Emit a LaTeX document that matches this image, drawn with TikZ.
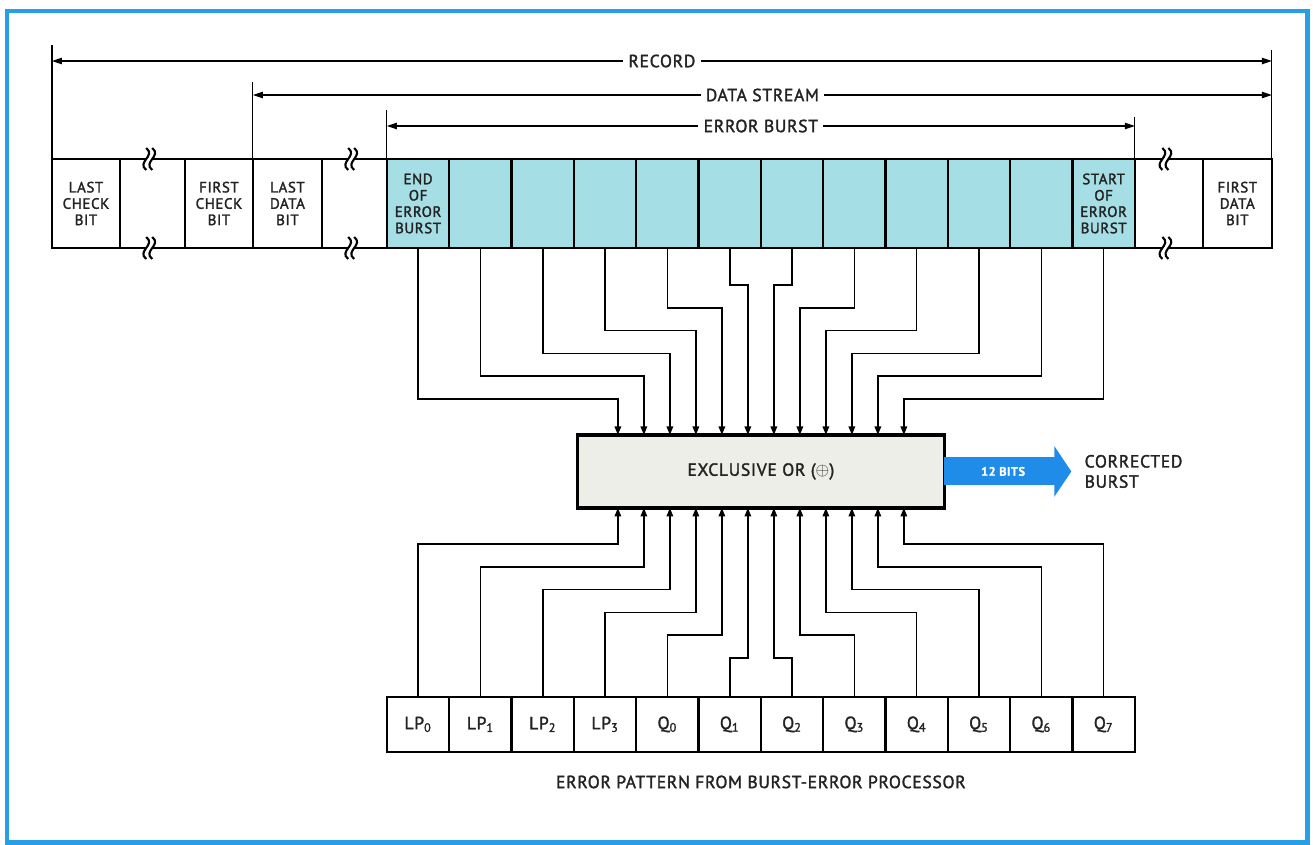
\documentclass[tikz,border=0pt]{standalone}
\usepackage{fontspec}
\setmainfont{PT Sans}[LetterSpace=4, FakeBold=1.8]
\usepackage{tikz}
\usetikzlibrary{positioning,arrows.meta,calc}

\definecolor{burstcyan}{RGB}{166,222,230}
\definecolor{frameblue}{RGB}{40,158,230}
\definecolor{busblue}{RGB}{30,140,232}
\definecolor{xorgray}{RGB}{238,238,233}
\definecolor{inkgray}{RGB}{35,35,35}

\tikzset{
	wavebreak/.pic={
		\fill[white] (-3,-5) rectangle (3,5);
		\draw[line width=1.2pt] (-3,-11) .. controls (7,-3) and (-13,3) .. (-3,11);
		\draw[line width=1.2pt] (3,-11) .. controls (13,-3) and (-7,3) .. (3,11);
	}
}

\begin{document}
\begin{tikzpicture}[
		x=0.02cm, y=-0.02cm,
		every node/.style={text=inkgray},
		bitbox/.style={
			draw,
			line width=1.3pt,
			outer sep=0pt,
			inner sep=0pt,
			minimum height=1.78cm,
			align=center,
			font=\fontsize{8.5}{9.3}\selectfont
		},
		burstbox/.style={bitbox, fill=burstcyan, minimum width=1.2467cm},
		patbox/.style={
			draw,
			line width=1.3pt,
			outer sep=0pt,
			inner sep=0pt,
			minimum width=1.2467cm,
			minimum height=1.1cm,
			font=\fontsize{10}{12}\selectfont
		},
		xorbox/.style={
			draw,
			line width=2pt,
			fill=xorgray,
			outer sep=0pt,
			minimum width=7.34cm,
			minimum height=1.46cm,
			font=\fontsize{10}{12}\selectfont
		},
		edge/.style={line width=1.3pt},
		wire/.style={line width=0.9pt, -{Triangle[length=0.17cm,width=0.13cm]}},
		tickline/.style={line width=0.6pt},
		dimline/.style={line width=0.6pt, {Triangle[length=0.2cm,width=0.13cm]}-{Triangle[length=0.2cm,width=0.13cm]}},
		dimlabel/.style={fill=white, inner sep=3pt, font=\fontsize{10}{12}\selectfont},
		busarrow/.style={busblue, line width=0.56cm, shorten >=0.26cm, -{Triangle[length=0.34cm,width=1cm]}}
		]
		
		\useasboundingbox (0,0) rectangle (1313,845);
		\draw[frameblue, line width=0.1cm] (7,11) rectangle (1307,842);
		
		% record row
		\node[bitbox, minimum width=1.36cm, anchor=north west] (lcb) at (52,159) {LAST\\CHECK\\BIT};
		\node[bitbox, minimum width=1.36cm, right=1.3cm of lcb] (fcb) {FIRST\\CHECK\\BIT};
		\node[bitbox, minimum width=1.38cm, right=0pt of fcb] (ldb) {LAST\\DATA\\BIT};
		\node[burstbox, right=1.3cm of ldb] (e0) {END\\OF\\ERROR\\BURST};
		\foreach \i in {1,...,10} {
			\pgfmathtruncatemacro\j{\i-1}
			\node[burstbox, right=0pt of e\j] (e\i) {};
		}
		\node[burstbox, right=0pt of e10] (e11) {START\\OF\\ERROR\\BURST};
		\node[bitbox, minimum width=1.38cm, right=1.36cm of e11] (fdb) {FIRST\\DATA\\BIT};
		
		\draw[edge] (lcb.north east) -- (fcb.north west) (lcb.south east) -- (fcb.south west)
		(ldb.north east) -- (e0.north west) (ldb.south east) -- (e0.south west)
		(e11.north east) -- (fdb.north west) (e11.south east) -- (fdb.south west);
		\foreach \a/\b in {lcb/fcb, ldb/e0, e11/fdb} {
			\path ($(\a.north east)!0.45!(\b.north west)$) pic {wavebreak};
			\path ($(\a.south east)!0.45!(\b.south west)$) pic {wavebreak};
		}
		
		% spans
		\coordinate[above=2.28cm of lcb.north west] (recTop);
		\coordinate[above=2.18cm of fdb.north east] (endTop);
		\coordinate[above=1.54cm of ldb.north west] (dsTop);
		\coordinate[above=0.98cm of e0.north west] (ebTop);
		\coordinate[above=0.84cm of e11.north east] (ebEnd);
		\draw[tickline] (lcb.north west) -- (recTop) (fdb.north east) -- (endTop)
		(ldb.north west) -- (dsTop) (e0.north west) -- (ebTop) (e11.north east) -- (ebEnd);
		
		\coordinate[above=1.96cm of lcb.north west] (recL);
		\coordinate[above=1.96cm of fdb.north east] (recR);
		\coordinate[above=1.28cm of ldb.north west] (dsL);
		\coordinate[above=1.28cm of fdb.north east] (dsR);
		\coordinate[above=0.66cm of e0.north west] (ebL);
		\coordinate[above=0.66cm of e11.north east] (ebR);
		\draw[dimline] (recL) -- node[dimlabel] {RECORD} (recR);
		\draw[dimline] (dsL) -- node[dimlabel] {DATA STREAM} (dsR);
		\draw[dimline] (ebL) -- node[dimlabel] {ERROR BURST} (ebR);
		
		% xor and error pattern
		\node[xorbox, below=3.74cm of e5.south east] (xor) {EXCLUSIVE OR ($\oplus$)};
		
		\node[patbox, below=8.98cm of e0] (p0) {LP\textsubscript{0}};
		\foreach \i in {1,2,3} {
			\pgfmathtruncatemacro\j{\i-1}
			\node[patbox, right=0pt of p\j] (p\i) {LP\textsubscript{\i}};
		}
		\foreach \q in {0,...,7} {
			\pgfmathtruncatemacro\i{\q+4}
			\pgfmathtruncatemacro\j{\q+3}
			\node[patbox, right=0pt of p\j] (p\i) {Q\textsubscript{\q}};
		}
		\node[below=0.35cm of p5.south east, font=\fontsize{10}{12}\selectfont] (caption)
		{ERROR PATTERN FROM BURST-ERROR PROCESSOR};
		
		\foreach \i in {0,...,11} {
			\pgfmathsetmacro\lv{36+22.8*min(\i,11-\i)}
			\coordinate (in\i) at ($(xor.north)+({(\i-5.5)*26},0)$);
			\coordinate (out\i) at ($(xor.south)+({(\i-5.5)*26},0)$);
			\draw[wire] (e\i.south) |- ($(in\i)+(0,-\lv)$) -- (in\i);
			\draw[wire] (p\i.north) |- ($(out\i)+(0,\lv)$) -- (out\i);
		}
		
		% output
		\node[right=2.8cm of xor.east, inner sep=0pt, align=left, font=\fontsize{10}{11.5}\selectfont] (corr)
		{CORRECTED\\BURST};
		\draw[busarrow] (xor.east) -- node[pos=0.42, text=white, font=\fontsize{7}{8}\selectfont\bfseries] (bits) {12 BITS} (corr.west);
		
	\end{tikzpicture}
\end{document}
